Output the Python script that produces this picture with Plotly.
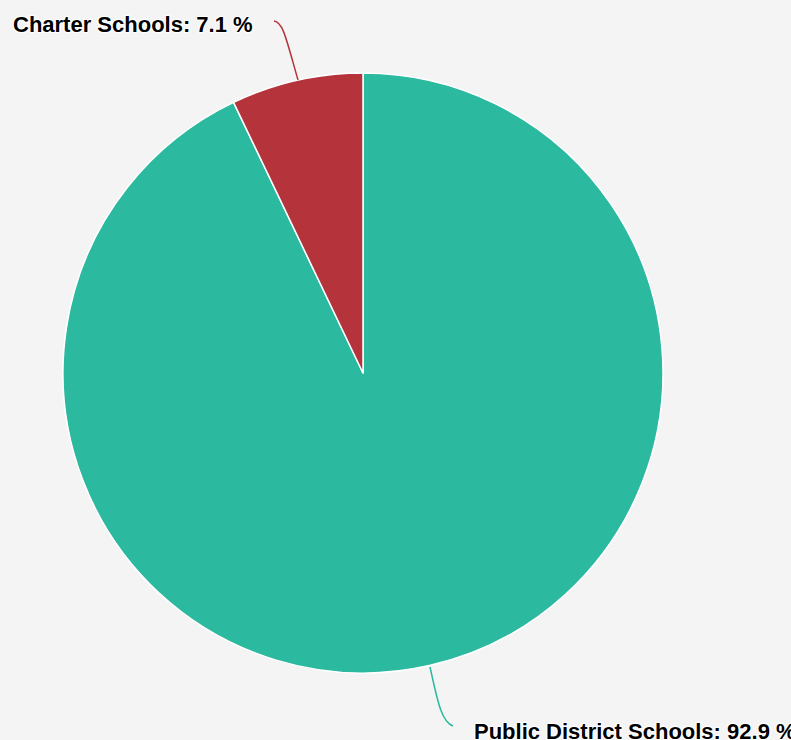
import plotly.graph_objects as go

# Data
labels = ["Public District Schools", "Charter Schools"]
values = [92.9, 7.1]
colors = ["#2bb9a0", "#b5333b"]

W, H = 791, 740

def px(x):
    return x / W

def py(y):
    return 1 - y / H

fig = go.Figure()
fig.add_trace(go.Pie(
    labels=labels,
    values=values,
    sort=False,
    direction="clockwise",
    rotation=0,
    textinfo="none",
    marker=dict(colors=colors, line=dict(color="#ffffff", width=1.5)),
    domain=dict(x=[px(63), px(663)], y=[py(673), py(73)]),
    showlegend=False,
))

shadow = ("1px 1px 1px #ffffff, -1px -1px 1px #ffffff, "
          "1px -1px 1px #ffffff, -1px 1px 1px #ffffff")
font = dict(family="Liberation Sans, Arial, sans-serif", size=22,
            color="#000000", weight="bold", shadow=shadow)

# label annotations (text from data)
fig.add_annotation(x=px(255), y=py(25), xref="paper", yref="paper",
                   text=f"{labels[1]}: {values[1]} %", showarrow=False,
                   xanchor="right", yanchor="middle", font=font)
fig.add_annotation(x=px(472), y=py(731), xref="paper", yref="paper",
                   text=f"{labels[0]}: {values[0]} %", showarrow=False,
                   xanchor="left", yanchor="middle", font=font)

def path(pts):
    (x0, y0), (x1, y1), (x2, y2), (x3, y3) = pts
    return (f"M {px(x0)},{py(y0)} C {px(x1)},{py(y1)} "
            f"{px(x2)},{py(y2)} {px(x3)},{py(y3)}")

fig.add_shape(type="path", xref="paper", yref="paper",
              path=path([(274, 21), (283, 22), (286, 38), (298, 80)]),
              line=dict(color=colors[1], width=1.5))
fig.add_shape(type="path", xref="paper", yref="paper",
              path=path([(430, 667), (437, 698), (441, 722), (453, 726)]),
              line=dict(color=colors[0], width=1.5))

fig.update_layout(
    width=W, height=H,
    margin=dict(l=0, r=0, t=0, b=0),
    paper_bgcolor="#f4f4f4",
    plot_bgcolor="#f4f4f4",
)

fig.write_html(
    "out.html",
    config={"displayModeBar": False},
    post_script="document.body.style.margin='0';"
                "document.body.style.background='#f4f4f4';",
)
